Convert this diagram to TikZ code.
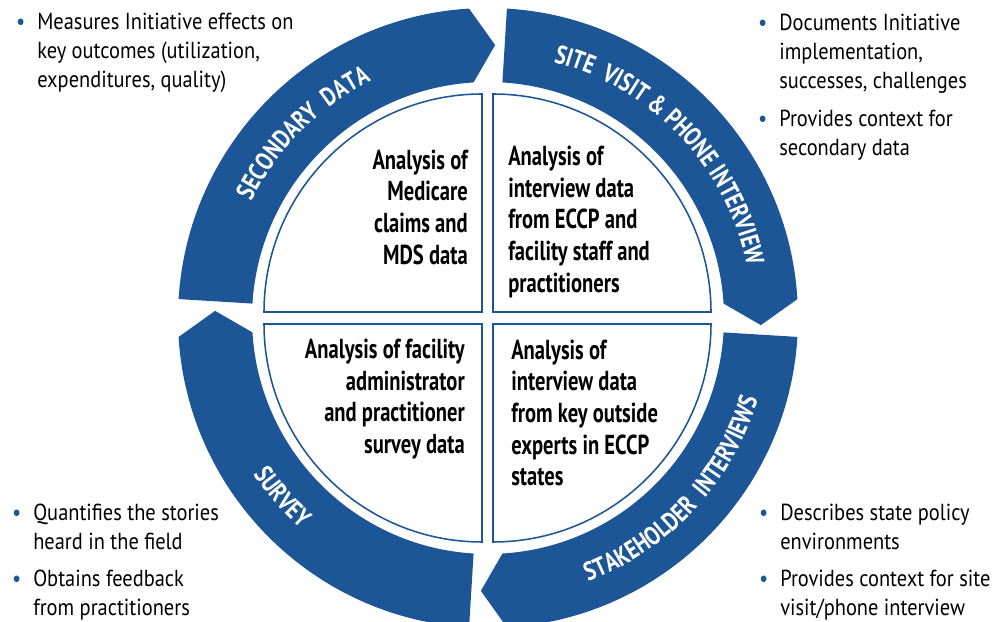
\documentclass[tikz,border=0pt]{standalone}
\usepackage{fontspec}
\setmainfont{PT Sans}[FakeStretch=0.88]
\newfontfamily\condfont{PT Sans}[FakeStretch=0.75]
\newfontfamily\bandfamily{PT Sans}[FakeStretch=0.8]
\usetikzlibrary{calc,positioning,decorations.text}

\definecolor{bandblue}{RGB}{29,86,150}

\tikzset{
	band/.style={fill=bandblue},
	quad/.style={draw=bandblue, line width=1.1pt, fill=white},
	quadtext/.style={font=\condfont\bfseries\fontsize{19.5}{22.5}\selectfont, inner sep=0pt},
	note/.style={font=\fontsize{16.5}{20.6}\selectfont, align=left, anchor=north west, inner sep=0pt},
	bandlabel/.style={decorate, decoration={text along path, text align=center, text color=white}}
}
\newcommand{\bandfont}{\bandfamily\bfseries\fontsize{18.5}{18.5}\selectfont}
\newcommand{\wsp}{\hspace{0.2em}}
\newcommand{\dotmark}{\llap{\textcolor{bandblue}{\textbullet}\hspace{0.3cm}}}

\begin{document}
\begin{tikzpicture}[x=0.025cm, y=0.025cm]
	
	\useasboundingbox (0,0) rectangle (1000,622);
	\coordinate (c) at (488,304);
	
	%Arrow bands
	\fill[band] ($(c)+(176.5:310)$) arc[start angle=176.5, end angle=93.5, radius=310] -- ($(c)+(88.5:273)$) -- ($(c)+(93.5:236)$) arc[start angle=93.5, end angle=176.5, radius=236] -- cycle;
	\fill[band] ($(c)+(86.5:310)$) arc[start angle=86.5, end angle=3.5, radius=310] -- ($(c)+(-1.5:273)$) -- ($(c)+(3.5:236)$) arc[start angle=3.5, end angle=86.5, radius=236] -- cycle;
	\fill[band] ($(c)+(-3.5:310)$) arc[start angle=-3.5, end angle=-86.5, radius=310] -- ($(c)+(-91.5:273)$) -- ($(c)+(-86.5:236)$) arc[start angle=-86.5, end angle=-3.5, radius=236] -- cycle;
	\fill[band] ($(c)+(266.5:310)$) arc[start angle=266.5, end angle=183.5, radius=310] -- ($(c)+(178.5:273)$) -- ($(c)+(183.5:236)$) arc[start angle=183.5, end angle=266.5, radius=236] -- cycle;
	
	%Band labels
	{\bandfont
	\path[bandlabel, decoration={text={SECONDARY {\wsp}DATA}}] ($(c)+(176:264)$) arc[start angle=176, end angle=94, radius=264];
	\path[bandlabel, decoration={text={SITE {\wsp}VISIT {\&} PHONE INTERVIEW}}] ($(c)+(84:264)$) arc[start angle=84, end angle=3, radius=264];
	\path[bandlabel, decoration={text={STAKEHOLDER {\wsp}INTERVIEWS}}] ($(c)+(-86:282)$) arc[start angle=-86, end angle=0, radius=282];
	\path[bandlabel, decoration={text={SURVEY}}] ($(c)+(184:282)$) arc[start angle=184, end angle=258, radius=282];
	}
	
	%Quadrants
	\draw[quad] (482,310) -- ++(180:218) arc[start angle=180, end angle=90, radius=218] -- cycle;
	\draw[quad] (493,310) -- ++(90:218) arc[start angle=90, end angle=0, radius=218] -- cycle;
	\draw[quad] (482,298) -- ++(270:218) arc[start angle=270, end angle=180, radius=218] -- cycle;
	\draw[quad] (493,298) -- ++(0:218) arc[start angle=0, end angle=-90, radius=218] -- cycle;
	
	%Quadrant texts
	\node (claims) at (468,415) [quadtext, anchor=east, align=right]{Analysis of\\Medicare\\claims and\\MDS data};
	\node (visits) at (508,400) [quadtext, anchor=west, align=left]{Analysis of\\interview data\\from ECCP and\\facility staff and\\practitioners};
	\node (survey) at (465,223) [quadtext, anchor=east, align=right]{Analysis of facility\\administrator\\and practitioner\\survey data};
	\node (experts) at (511,209) [quadtext, anchor=west, align=left]{Analysis of\\interview data\\from key outside\\experts in ECCP\\states};
	
	%Notes
	\node (secnote) at (37,609) [note]{\dotmark Measures Initiative effects on\\key outcomes (utilization,\\expenditures, quality)};
	\node (sitenote) at (779,608) [note]{\dotmark Documents Initiative\\implementation,\\successes, challenges\\[0.22cm]\dotmark Provides context for\\secondary data};
	\node (survnote) at (33,118) [note]{\dotmark Quantifies the stories\\heard in the field\\[0.2cm]\dotmark Obtains feedback\\from practitioners};
	\node (stakenote) at (780,118) [note]{\dotmark Describes state policy\\environments\\[0.2cm]\dotmark Provides context for site\\visit/phone interview};
	
\end{tikzpicture}
\end{document}
